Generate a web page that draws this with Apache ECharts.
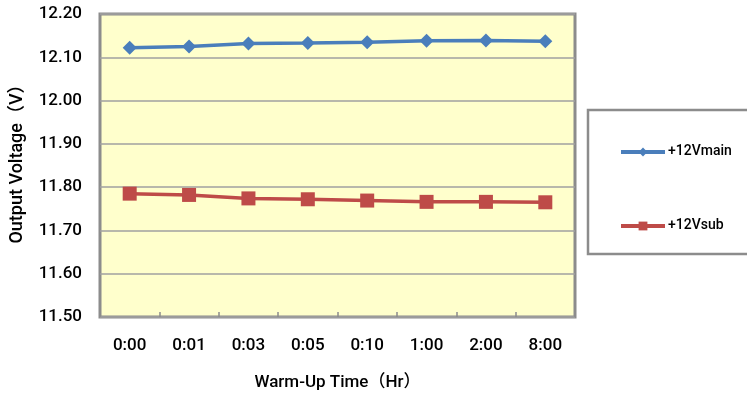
<!DOCTYPE html>
<html>
<head>
<meta charset="utf-8">
<script src="https://cdn.jsdelivr.net/npm/echarts@6/dist/echarts.min.js"></script>
<style>
  html, body { margin: 0; padding: 0; background: #fff; }
  #chart { width: 747px; height: 395px; }
</style>
</head>
<body>
<div id="chart"></div>
<script>
// Warm-up time checkpoints (hours:minutes)
const categories = ['0:00', '0:01', '0:03', '0:05', '0:10', '1:00', '2:00', '8:00'];
// Measured output voltages (V)
const mainVolts = [12.122, 12.125, 12.132, 12.133, 12.135, 12.138, 12.139, 12.137];
const subVolts = [11.785, 11.782, 11.774, 11.772, 11.769, 11.766, 11.766, 11.765];
const seriesNames = ['+12Vmain', '+12Vsub'];

const FONT = 'Roboto, "Liberation Sans", "Noto Sans CJK JP", sans-serif';
const W = 500;

const chart = echarts.init(document.getElementById('chart'), null, { renderer: 'canvas' });
chart.setOption({
  animation: false,
  backgroundColor: '#ffffff',
  textStyle: { fontFamily: FONT },
  grid: {
    left: 100, top: 14, width: 475, height: 303,
    show: true, backgroundColor: '#FFFFCC',
    borderColor: '#8c8c8c', borderWidth: 3,
    containLabel: false,
    outerBoundsMode: 'none'
  },
  graphic: [{
    type: 'rect',
    shape: { x: 588, y: 110, width: 170, height: 144 },
    style: { fill: '#ffffff', stroke: '#8c8c8c', lineWidth: 2.5 },
    z: 0
  }],
  legend: {
    orient: 'vertical',
    left: 614, top: 140,
    itemWidth: 44, itemHeight: 11,
    itemGap: 60,
    textStyle: { fontFamily: FONT, fontSize: 14, fontWeight: W, color: '#000', padding: [0, 0, 0, -2] },
    lineStyle: { width: 4 },
    data: seriesNames
  },
  xAxis: {
    type: 'category',
    data: categories,
    boundaryGap: true,
    name: 'Warm-Up Time（Hr）',
    nameLocation: 'middle',
    nameGap: 57,
    nameTextStyle: { fontFamily: FONT, fontSize: 17, fontWeight: W, color: '#000' },
    axisLine: { show: false },
    axisTick: { show: true, inside: true, length: 5, lineStyle: { color: '#8c8c8c', width: 1.5 } },
    axisLabel: { fontFamily: FONT, fontSize: 17, fontWeight: W, color: '#000', margin: 20 }
  },
  yAxis: {
    type: 'value',
    min: 11.5, max: 12.2, interval: 0.1,
    name: 'Output Voltage（V）',
    nameLocation: 'middle',
    nameRotate: 90,
    nameGap: 74,
    nameTextStyle: { fontFamily: FONT, fontSize: 18, fontWeight: W, color: '#000', padding: [0, 0, 0, 12] },
    axisLine: { show: false },
    axisTick: { show: false },
    axisLabel: {
      fontFamily: FONT, fontSize: 17, fontWeight: W, color: '#000', margin: 18,
      formatter: v => v.toFixed(2)
    },
    splitLine: { show: true, lineStyle: { color: '#a0a0a0', width: 1.5 } }
  },
  series: [
    {
      name: seriesNames[0],
      type: 'line',
      data: mainVolts,
      symbol: 'diamond',
      symbolSize: 14,
      lineStyle: { color: '#4A7EBB', width: 3.5 },
      itemStyle: { color: '#4A7EBB' }
    },
    {
      name: seriesNames[1],
      type: 'line',
      data: subVolts,
      symbol: 'rect',
      symbolSize: 14,
      lineStyle: { color: '#BE4B48', width: 3.5 },
      itemStyle: { color: '#BE4B48' }
    }
  ]
});
</script>
</body>
</html>
